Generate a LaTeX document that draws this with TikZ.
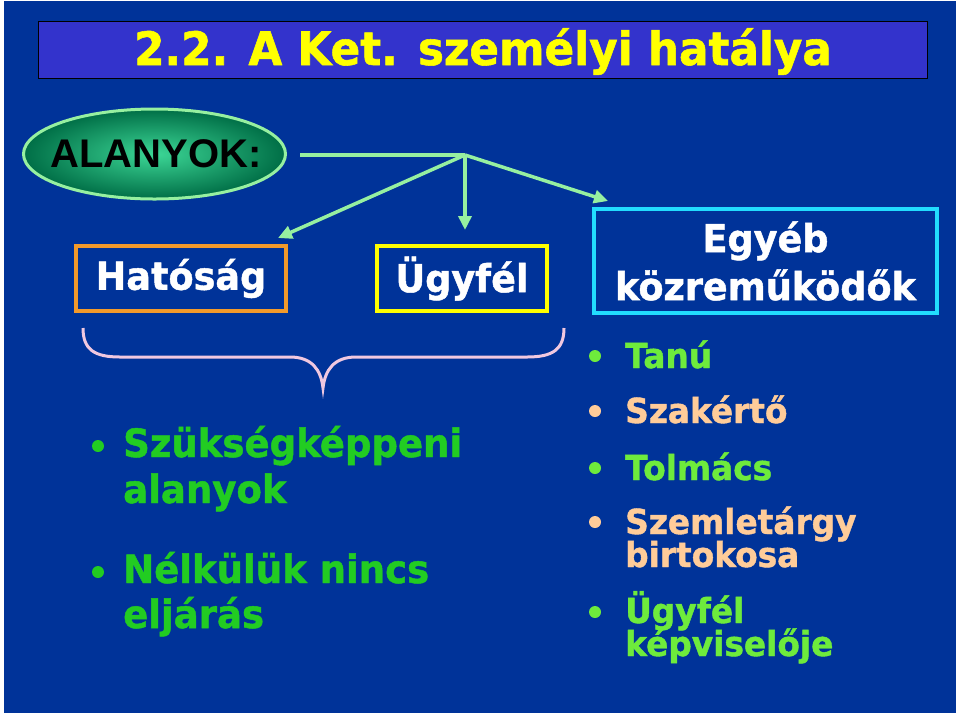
\documentclass[tikz,border=0pt]{standalone}
\usepackage{fontspec}
\setmainfont{Liberation Sans}
\newfontfamily\tah[FakeStretch=0.95, BoldFeatures={FakeBold=1.2}]{DejaVu Sans}
\usetikzlibrary{shapes.geometric,arrows.meta}
\definecolor{bgblue}{RGB}{0,51,153}
\definecolor{titlefill}{RGB}{51,51,204}
\definecolor{titletext}{RGB}{255,255,0}
\definecolor{lightgreen}{RGB}{150,240,160}
\definecolor{ellin}{RGB}{60,215,150}
\definecolor{ellout}{RGB}{0,110,70}
\definecolor{hatorange}{RGB}{243,154,43}
\definecolor{ugyyellow}{RGB}{255,255,0}
\definecolor{egycyan}{RGB}{34,221,255}
\definecolor{bracepink}{RGB}{240,200,224}
\definecolor{leftgreen}{RGB}{34,204,34}
\definecolor{limegreen}{RGB}{110,235,60}
\definecolor{peach}{RGB}{255,204,153}
\tikzset{
  boxnode/.style={draw, line width=4, inner sep=0, text=white,
    font=\tah\bfseries\fontsize{38.5}{48}\selectfont},
  conn/.style={draw=lightgreen, line width=3.5},
  arr/.style={conn, -{Triangle[length=14,width=13]}},
  leftitem/.style={anchor=base west, inner sep=0, text=leftgreen,
    font=\tah\bfseries\fontsize{39}{48}\selectfont},
  rightitem/.style={anchor=base west, inner sep=0,
    font=\tah\bfseries\fontsize{34.5}{40}\selectfont},
  dot/.style={circle, inner sep=0, minimum size=12},
}
\begin{document}
\begin{tikzpicture}[x=1pt,y=-1pt]
\fill[white] (0,0) rectangle (960,716);
\fill[bgblue] (4,1) rectangle (956,713);
\useasboundingbox (0,0) rectangle (960,716);
% title
\node[draw=black, line width=1.5, fill=titlefill, minimum width=889, minimum height=57, inner sep=0] (tbox) at (483,50) {};
\node[anchor=base, inner sep=0, text=titletext, font=\tah\bfseries\fontsize{46}{55}\selectfont] (title) at (483,65) {2.2. A Ket. személyi hatálya};
% ellipse
\shade[inner color=ellin, outer color=ellout, draw=lightgreen, line width=3]
  (154.5,154) ellipse [x radius=131, y radius=45];
\node[inner sep=0, font=\bfseries\fontsize{40}{48}\selectfont] (alany) at (156,154) {ALANYOK:};
% boxes
\node[boxnode, draw=hatorange, minimum width=210, minimum height=65] (hat) at (181,278.5) {Hatóság};
\node[boxnode, draw=ugyyellow, minimum width=170, minimum height=65] (ugy) at (462,278.5) {Ügyfél};
\node[boxnode, draw=egycyan, minimum width=343, minimum height=104, align=center] (egy) at (765.5,261) {Egyéb\\közreműködők};
% connectors
\coordinate (s) at (300,155);
\coordinate (J) at (465,155);
\coordinate (th) at (278,238);
\coordinate (tu) at (465,230);
\coordinate (te) at (608,201);
\draw[conn] (s) -- (J);
\draw[arr] (J) -- (th);
\draw[arr] (J) -- (tu);
\draw[arr] (J) -- (te);
% brace
\draw[bracepink, line width=3]
  (83,328) .. controls (83,350) and (95,357) .. (120,357) -- (290,357)
  .. controls (312,357) and (321,370) .. (323,388)
  .. controls (325,370) and (334,357) .. (356,357) -- (527,357)
  .. controls (552,357) and (564,350) .. (564,328);
% left bullets
\node[dot, fill=leftgreen] (lb1) at (98,446) {};
\node[leftitem] (l1a) at (123,457) {Szükségképpeni};
\node[leftitem] (l1b) at (123,503) {alanyok};
\node[dot, fill=leftgreen] (lb2) at (98,572) {};
\node[leftitem] (l2a) at (123,583) {Nélkülük nincs};
\node[leftitem] (l2b) at (123,628) {eljárás};
% right bullets
\node[dot, fill=limegreen] (rb1) at (595,356) {};
\node[rightitem, text=limegreen] (r1) at (625,368) {Tanú};
\node[dot, fill=peach] (rb2) at (595,411) {};
\node[rightitem, text=peach] (r2) at (625,423) {Szakértő};
\node[dot, fill=limegreen] (rb3) at (595,468) {};
\node[rightitem, text=limegreen] (r3) at (625,480) {Tolmács};
\node[dot, fill=peach] (rb4) at (595,522) {};
\node[rightitem, text=peach] (r4a) at (625,534) {Szemletárgy};
\node[rightitem, text=peach] (r4b) at (625,567) {birtokosa};
\node[dot, fill=limegreen] (rb5) at (595,612) {};
\node[rightitem, text=limegreen] (r5a) at (625,623) {Ügyfél};
\node[rightitem, text=limegreen] (r5b) at (625,656) {képviselője};
\end{tikzpicture}
\end{document}
